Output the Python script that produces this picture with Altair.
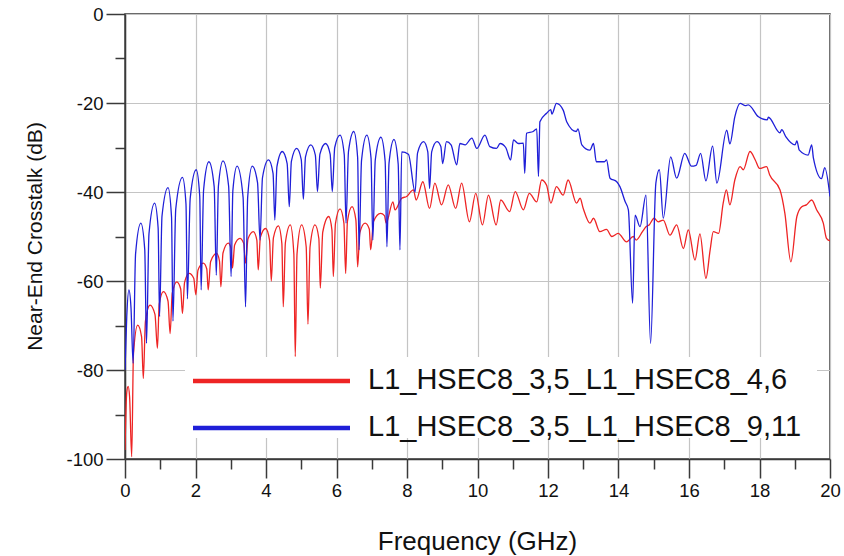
import altair as alt
import pandas as pd

red_name = "L1_HSEC8_3,5_L1_HSEC8_4,6"
blue_name = "L1_HSEC8_3,5_L1_HSEC8_9,11"

blue_f = [0.00, 0.05, 0.11, 0.17, 0.23, 0.30, 0.45, 0.56, 0.61, 0.68, 0.84, 0.94, 0.98, 1.05, 1.22,
          1.32, 1.36, 1.44, 1.63, 1.73, 1.77, 1.85, 2.02, 2.12, 2.16, 2.23, 2.38, 2.53, 2.59, 2.65,
          2.78, 2.94, 3.01, 3.06, 3.18, 3.35, 3.42, 3.48, 3.61, 3.76, 3.83, 3.90, 4.07, 4.20, 4.25,
          4.31, 4.46, 4.60, 4.66, 4.72, 4.87, 5.00, 5.06, 5.12, 5.27, 5.40, 5.46, 5.53, 5.69, 5.82,
          5.88, 5.95, 6.10, 6.22, 6.27, 6.34, 6.49, 6.60, 6.64, 6.71, 6.86, 6.98, 7.03, 7.10, 7.26,
          7.38, 7.43, 7.49, 7.63, 7.75, 7.80, 7.85, 8.04, 8.23, 8.30, 8.47, 8.59, 8.64, 8.70, 8.85,
          8.96, 9.01, 9.12, 9.25, 9.41, 9.50, 9.65, 9.84, 9.98, 10.21, 10.35, 10.54,
          10.64, 10.80, 10.94, 11.02, 11.16, 11.30, 11.34, 11.39, 11.58, 11.68, 11.73, 11.77, 11.96,
          12.08, 12.11, 12.24, 12.43, 12.53, 12.80, 12.85, 12.96, 13.19, 13.29, 13.37, 13.60, 13.66,
          13.76, 13.95, 14.04, 14.19, 14.28, 14.40, 14.47, 14.61, 14.78, 14.91, 15.06, 15.16, 15.27,
          15.48, 15.65, 15.88, 16.07, 16.20, 16.33, 16.48, 16.67, 16.79, 17.07, 17.16, 17.30, 17.45,
          17.60, 17.68, 17.97, 18.22, 18.25, 18.58, 18.63, 18.75, 19.01, 19.06, 19.13, 19.38, 19.48,
          19.53, 19.76, 19.85, 20.00]
blue_db = [-80, -68, -62, -66, -78.5, -53.9, -47, -52.9, -74, -49.4, -42.5, -48.1, -68, -45.4, -39,
           -45.6, -69, -43.8, -36.7, -42.7, -64, -41.4, -35, -40.9, -62, -39.5, -33.2, -38.8, -58.7, -38.7,
           -33, -38.7, -59, -39.7, -34.2, -41.2, -65.8, -41.2, -34.2, -37.9, -50.8, -36.8, -32.8, -35.8, -46.3,
           -34.3, -30.9, -33.6, -43.3, -33.1, -30.2, -32.7, -41.6, -32.1, -29.4, -31.7, -39.9, -31.5, -29.1, -31.5,
           -39.9, -30, -27.2, -31.6, -47, -30.9, -26.4, -32.3, -53, -32.9, -27.2, -32.4, -50.8, -32.8, -27.7,
           -33.1, -52.3, -33.5, -28.2, -33.7, -53, -31, -31.5, -40, -31.2, -28.7, -31, -39.2, -31, -28.7,
           -29.8, -33.6, -28.7, -29.4, -33.9, -29.1, -29.4, -27.9, -30.2, -27.2, -29.8, -30.2,
           -29.1, -30, -32.8, -28.3, -29.1, -29, -35.8, -26.8, -26.4, -25.8, -36.5, -24.2, -22.3,
           -21.5, -22.5, -20.1, -21.6, -24.2, -26.4, -25.8, -29.4, -30.6, -29.1, -33.2, -33.2, -32.8,
           -36.9, -37.7, -38.8, -42.2, -44, -65, -45.2, -47.8, -40.7, -74, -38, -35, -45.9,
           -32.1, -36.9, -31.3, -34.2, -34, -31.3, -37.5, -29.7, -38, -26.1, -29.2, -23.1, -20.1,
           -20.6, -20.4, -23.1, -23.8, -23.2, -26.7, -26, -27.6, -29.4, -28.5, -30.6, -31.7, -29.4,
           -32.4, -37, -34.5, -41]

red_f = [0.00, 0.05, 0.09, 0.13, 0.19, 0.24, 0.36, 0.47, 0.52, 0.58, 0.71, 0.85, 0.92, 0.97, 1.09,
         1.22, 1.28, 1.34, 1.47, 1.58, 1.63, 1.69, 1.82, 1.95, 2.01, 2.07, 2.22, 2.32, 2.36, 2.43,
         2.60, 2.68, 2.72, 2.78, 2.93, 3.01, 3.05, 3.11, 3.26, 3.37, 3.42, 3.49, 3.64, 3.74, 3.78,
         3.84, 3.99, 4.10, 4.15, 4.21, 4.35, 4.45, 4.49, 4.55, 4.69, 4.79, 4.83, 4.88, 5.01, 5.14,
         5.19, 5.25, 5.39, 5.50, 5.54, 5.61, 5.78, 5.87, 5.91, 5.97, 6.10, 6.21, 6.26, 6.31, 6.44,
         6.55, 6.60, 6.66, 6.81, 6.93, 6.97, 7.05, 7.25, 7.36, 7.41,
         7.60, 7.66, 7.85, 7.99, 8.18, 8.26, 8.45, 8.64, 8.79, 8.98, 9.17, 9.38, 9.55, 9.77, 9.95,
         10.14, 10.31, 10.53, 10.66, 10.91, 11.07, 11.30, 11.47, 11.68, 11.82, 11.96, 12.08, 12.24,
         12.43, 12.57, 12.81, 12.91, 13.00, 13.19, 13.29, 13.47, 13.66, 13.81, 13.99, 14.23, 14.42,
         14.50, 14.68, 14.78, 14.87, 15.01, 15.13, 15.27, 15.46, 15.65, 15.84, 15.98, 16.17, 16.31,
         16.48, 16.60, 16.69, 16.84, 16.97, 17.06, 17.16, 17.30, 17.45, 17.54, 17.73, 17.88, 18.00,
         18.20, 18.29, 18.58, 18.72, 18.89, 19.06, 19.20, 19.33, 19.48, 19.62, 19.81, 19.90, 20.00]
red_db = [-98, -85, -83.7, -86, -99.5, -76.4, -69.9, -72.5, -81.9, -69, -65.4, -67.5, -75.1, -65.2, -62.4,
          -64.5, -71.8, -62.8, -60.2, -61.8, -67.3, -60.3, -58.3, -59.4, -63.1, -57.6, -56, -57.3, -62, -55.6,
          -53.8, -55.5, -61.3, -53.7, -51.5, -52.7, -57.1, -51.9, -50.4, -51.6, -56, -50.5, -48.9, -50.8, -57.5,
          -50.2, -48.2, -50.8, -60, -50.3, -47.6, -51.6, -65.8, -51.4, -47.4, -53.9, -77, -53.9, -47.4, -52.3,
          -69.7, -52.3, -47.4, -50.5, -61.6, -49, -45.5, -48.5, -59, -47.1, -43.8, -47, -58.3, -46.6, -43.3,
          -46.3, -56.8, -49.2, -47, -48.3, -53, -46.6, -44.8, -45.3, -47,
          -42.2, -44, -41.4, -41, -39.5, -41.8, -37.7, -43.7, -38, -42.9, -38.4, -43.7, -38, -46.7, -40.3,
          -47.4, -40.7, -47.4, -41.8, -44.4, -39.9, -44, -40.3, -42.2, -37.3, -38.5, -42.5, -38.8,
          -40.7, -37.3, -42.5, -41.4, -43.7, -47, -45.9, -48.9, -48.4, -50, -49.3, -51.2, -50,
          -50.8, -48.9, -47.8, -47.4, -45.9, -46.7, -46.3, -49.7, -47.4, -52.7, -48.5, -55.3, -49.4,
          -59.4, -53, -48.9, -49.3, -42.5, -39.5, -42.9, -37.3, -34.3, -35, -30.9, -32.8, -34.7,
          -34.3, -36.2, -39.5, -44.8, -55.7, -45.5, -43.3, -42.9, -41.8, -44, -47, -50.4, -51]

series_names = [red_name, blue_name]
series_colors = ["#ee2424", "#1f1fd8"]

df = pd.concat([
    pd.DataFrame({"f": red_f, "db": red_db, "s": red_name}),
    pd.DataFrame({"f": blue_f, "db": blue_db, "s": blue_name}),
])

FONT = "Liberation Sans"
AX = "#3a3a3a"

x_axis = alt.Axis(
    values=list(range(0, 21)),
    labelExpr="datum.value % 2 === 0 ? datum.label : ''",
    tickSize={"condition": {"test": "datum.value % 2 === 0", "value": 19}, "value": 10},
    gridOpacity={"condition": {"test": "datum.value % 2 === 0", "value": 1}, "value": 0},
    grid=True, gridColor="#c4c4c4", gridWidth=1.2,
    domainColor=AX, domainWidth=1.5, tickColor=AX, tickWidth=1.5,
    labelFont=FONT, labelFontSize=18.5, labelColor="#111", labelPadding=3,
    labelOverlap=False, labelFlush=False,
    title="Frequency (GHz)", titleFont=FONT, titleFontSize=26, titleFontWeight="normal",
    titleColor="#111", titleX=352, titleY=82, titleBaseline="middle",
)
y_axis = alt.Axis(
    values=list(range(-100, 1, 10)),
    labelExpr="datum.value % 20 === 0 ? (datum.value < 0 ? '-' + toString(-datum.value) : toString(datum.value)) : ''",
    tickSize={"condition": {"test": "datum.value % 20 === 0", "value": 19}, "value": 10},
    gridOpacity={"condition": {"test": "datum.value % 20 === 0", "value": 1}, "value": 0},
    grid=True, gridColor="#c4c4c4", gridWidth=1.2,
    domainColor=AX, domainWidth=1.5, tickColor=AX, tickWidth=1.5,
    labelFont=FONT, labelFontSize=18.5, labelColor="#111", labelPadding=3,
    labelOverlap=False, labelFlush=False,
    title="Near-End Crosstalk (dB)", titleFont=FONT, titleFontSize=21, titleFontWeight="normal",
    titleColor="#111", titleX=-90, titleY=222, titleAngle=-90, titleBaseline="middle",
    titleAlign="center",
)

lines = alt.Chart(df).mark_line(strokeWidth=1.3, interpolate="monotone", clip=True).encode(
    x=alt.X("f:Q", scale=alt.Scale(domain=[0, 20], nice=False, zero=False), axis=x_axis),
    y=alt.Y("db:Q", scale=alt.Scale(domain=[-100, 0], nice=False), axis=y_axis),
    color=alt.Color("s:N", scale=alt.Scale(domain=series_names, range=series_colors), legend=None),
    detail="s:N",
)

# Legend (drawn as marks inside the plot area, like the original)
legend_box = alt.Chart(pd.DataFrame({"s": [red_name]})).mark_rect(color="white").encode(
    x=alt.value(60), x2=alt.value(692), y=alt.value(343), y2=alt.value(424)
)
legend_layers = [legend_box]
legend_rows = [367, 414]
for name, col, yy in zip(series_names, series_colors, legend_rows):
    d = pd.DataFrame({"s": [name]})
    legend_layers.append(
        alt.Chart(d).mark_rule(color=col, strokeWidth=4.5).encode(
            x=alt.value(68), x2=alt.value(225), y=alt.value(yy)
        )
    )
    legend_layers.append(
        alt.Chart(d).mark_text(align="left", baseline="middle", font=FONT, fontSize=29, color="#111").encode(
            x=alt.value(243), y=alt.value(yy - 1), text="s:N"
        )
    )

chart = alt.layer(lines, *legend_layers).properties(
    width=705, height=445,
    autosize=alt.AutoSizeParams(type="none"),
    padding={"left": 125, "top": 14, "right": 14, "bottom": 97},
    background="white",
).configure_view(stroke=AX, strokeWidth=1.5)

chart.save("out.html", embed_options={"renderer": "svg", "actions": False})
